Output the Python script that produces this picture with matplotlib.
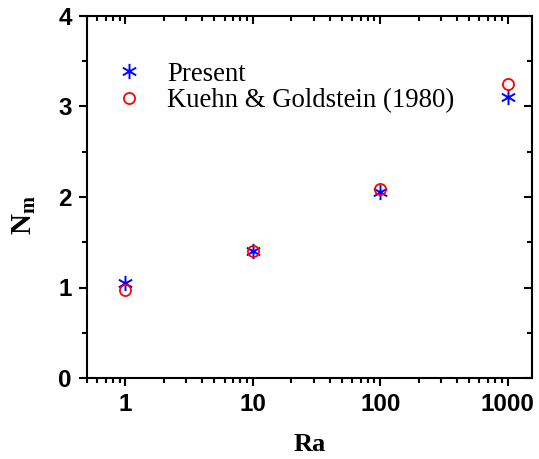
import numpy as np
import matplotlib.pyplot as plt
from matplotlib.path import Path
from matplotlib.ticker import FixedLocator, LogLocator, NullFormatter

# data
ra = [1, 10, 100, 1000]
nm_present = [1.05, 1.40, 2.05, 3.10]
nm_kuehn = [0.97, 1.40, 2.09, 3.25]
xticks = [1, 10, 100, 1000]
xtick_labels = ["1", "10", "100", "1000"]
yticks = [0, 1, 2, 3, 4]

# asterisk marker: vertical stroke plus two diagonals
ang = np.deg2rad(30)
verts = [(0, -1), (0, 1),
         (-np.cos(ang), -np.sin(ang)), (np.cos(ang), np.sin(ang)),
         (-np.cos(ang), np.sin(ang)), (np.cos(ang), -np.sin(ang))]
codes = [Path.MOVETO, Path.LINETO] * 3
aster = Path(verts, codes)

fig = plt.figure(figsize=(5.39, 4.59), dpi=100)
ax = fig.add_axes([87 / 539, 1 - 378 / 459, (532 - 87) / 539, (378 - 16) / 459])

ax.plot(ra, nm_present, linestyle="none", marker=aster, markersize=11,
        markerfacecolor="none", markeredgecolor="#0000ff", markeredgewidth=1.4,
        label="Present")
ax.plot(ra, nm_kuehn, linestyle="none", marker="o", markersize=8,
        markerfacecolor="none", markeredgecolor="#ff0000", markeredgewidth=1.3,
        label="Kuehn & Goldstein (1980)")

ax.set_xscale("log")
ax.set_xlim(0.5, 1550)
ax.set_ylim(0, 4)
ax.xaxis.set_major_locator(FixedLocator(xticks))
ax.set_xticklabels(xtick_labels)
ax.xaxis.set_minor_locator(LogLocator(base=10, subs=np.arange(2, 10)))
ax.xaxis.set_minor_formatter(NullFormatter())
ax.set_yticks(yticks)
ax.yaxis.set_minor_locator(FixedLocator(np.arange(0.5, 4, 1.0)))

for s in ax.spines.values():
    s.set_linewidth(1.5)

ax.tick_params(which="both", direction="out", width=1.5, bottom=True, left=True)
ax.tick_params(which="major", length=6, pad=5)
ax.tick_params(which="minor", length=3.5)
ax.tick_params(which="both", top=True, right=True)

# mirror ticks point inward on top and right, as in Origin
for t in ax.xaxis.get_major_ticks() + ax.xaxis.get_minor_ticks():
    t.tick2line.set_marker(3)
for t in ax.yaxis.get_major_ticks() + ax.yaxis.get_minor_ticks():
    t.tick2line.set_marker(0)

for lab in ax.get_xticklabels() + ax.get_yticklabels():
    lab.set_fontfamily("Liberation Sans")
    lab.set_fontweight("bold")
    lab.set_fontsize(17.5)

ax.set_xlabel("Ra", fontfamily="Liberation Serif", fontweight="bold",
              fontsize=19, labelpad=12)
ax.set_ylabel(r"N$_\mathregular{m}$", fontfamily="Liberation Serif", fontweight="bold",
              fontsize=21)
ax.yaxis.set_label_coords(-0.11, 0.45)

leg = ax.legend(loc="upper left", bbox_to_anchor=(0.009, 0.94), frameon=False,
                prop={"family": "Liberation Serif", "size": 19.3},
                handlelength=1.0, handletextpad=0.95, labelspacing=0.05)

fig.savefig("out.png", dpi=100)
